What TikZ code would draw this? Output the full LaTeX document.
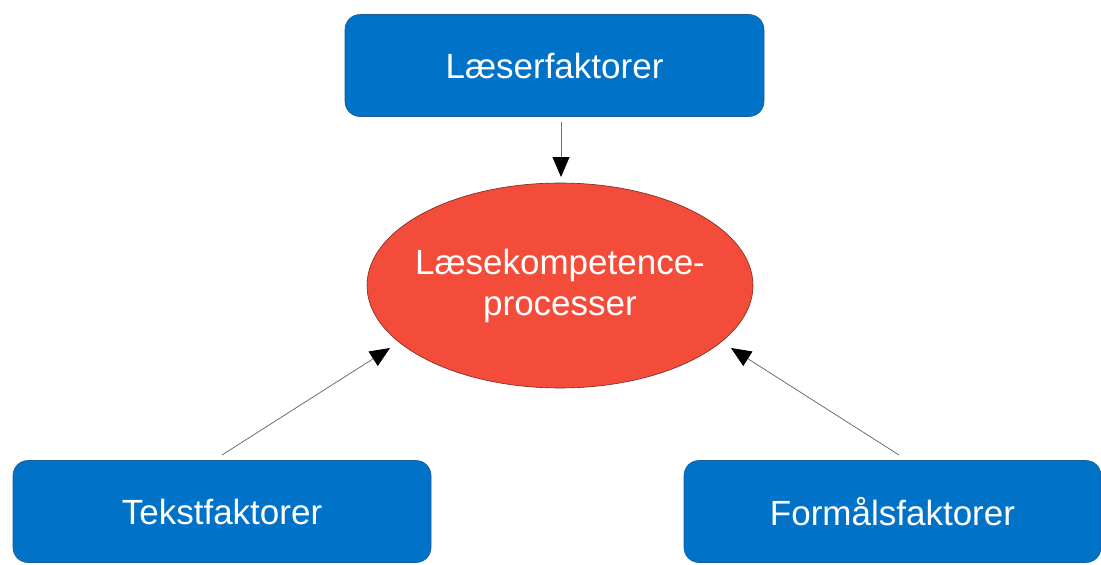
\documentclass[tikz,border=0pt]{standalone}
\usepackage{fontspec}
\setmainfont{Liberation Sans}
\usetikzlibrary{arrows.meta,shapes.geometric}
\definecolor{boxblue}{RGB}{0,114,200}
\definecolor{boxedge}{RGB}{30,90,150}
\definecolor{ellred}{RGB}{244,76,58}
\definecolor{elledge}{RGB}{120,40,30}
\definecolor{linegray}{RGB}{110,110,110}
\tikzset{
  factorbox/.style={draw=boxedge, line width=0.6pt, fill=boxblue, rounded corners=15pt,
    text=white, font=\fontsize{35}{41}\selectfont, inner sep=0pt, minimum height=102pt},
  procell/.style={draw=elledge, line width=0.6pt, fill=ellred},
  proctext/.style={text=white, font=\fontsize{35}{41}\selectfont, inner sep=0pt, align=center},
  conn/.style={draw=linegray, line width=0.8pt,
    -{Triangle[width=17pt,length=20pt,color=black,fill=black]}}
}
\begin{document}
\begin{tikzpicture}[x=1pt,y=-1pt]
\useasboundingbox (0,0) rectangle (1101,565);
\node[factorbox, minimum width=419pt] (top) at (554.5,65.5) {Læserfaktorer};
\node[factorbox, minimum width=418pt] (left) at (222,511.5) {Tekstfaktorer};
\node[factorbox, minimum width=417pt] (right) at (892.5,511.5) {Formålsfaktorer};
\path[procell] (560,285.5) ellipse [x radius=193pt, y radius=102.5pt];
\node[proctext] (proc) at (560,285.5) {Læsekompetence-\\processer};
\coordinate (ttip) at (561,177);
\coordinate (ltip) at (390,348);
\coordinate (rtip) at (731,348);
\coordinate (lstart) at (222,455);
\coordinate (rstart) at (899,455);
\coordinate (tstart) at (561,122);
\draw[conn] (tstart) -- (ttip);
\draw[conn] (lstart) -- (ltip);
\draw[conn] (rstart) -- (rtip);
\end{tikzpicture}
\end{document}
